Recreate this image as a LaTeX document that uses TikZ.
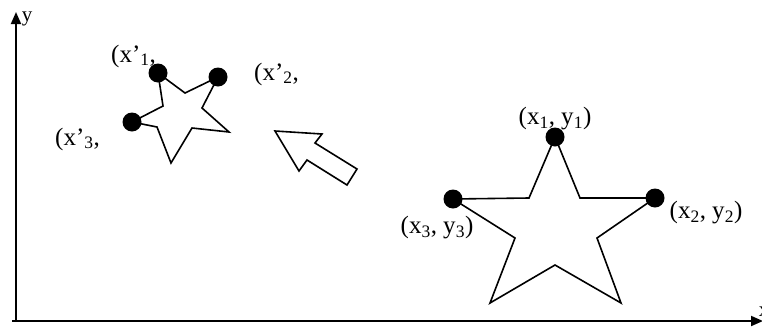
\documentclass[tikz,border=0pt]{standalone}
\usepackage{fontspec}
\setmainfont{Liberation Serif}
\usetikzlibrary{arrows.meta}
\begin{document}
\begin{tikzpicture}[x=1pt,y=-1pt,
  axis/.style={line width=1.9pt,-{Triangle[length=12pt,width=10pt]}},
  starline/.style={line width=1.6pt,line join=miter},
  dot/.style={circle,fill=black,inner sep=0pt,minimum size=19pt},
  lbl/.style={font=\fontsize{25}{28}\selectfont,inner sep=0pt}]
\useasboundingbox (0,0) rectangle (762,327);
% axes
\coordinate (O) at (16,321);
\coordinate (Ytip) at (16,12);
\coordinate (Xstart) at (12,321);
\coordinate (Xtip) at (763,321);
\draw[axis] (O) -- (Ytip);
\draw[axis] (Xstart) -- (Xtip);
\node[font=\fontsize{21}{24}\selectfont,inner sep=0pt] (ylab) at (27,19) {y};
\node[font=\fontsize{21}{24}\selectfont,inner sep=0pt] (xlab) at (764,312) {x};
% big star
\draw[starline] (555,137) -- (580,198) -- (655,198) -- (597,238) -- (621,303)
  -- (555,265) -- (490,303) -- (515,238) -- (453,199) -- (529,198) -- cycle;
% small star
\draw[starline] (158,73) -- (185,93) -- (218,77) -- (202,108) -- (229,132)
  -- (192,128) -- (171,163) -- (157,127) -- (132,122) -- (163,106) -- cycle;
% arrow
\draw[line width=1.6pt,line join=miter] (275,131) -- (322,134) -- (315,143) -- (357,169)
  -- (347,185) -- (307,160) -- (299,171) -- cycle;
% labels
\node[lbl] (l1) at (555,119) {(x\textsubscript{1}, y\textsubscript{1})};
\node[lbl] (l2) at (706,213) {(x\textsubscript{2}, y\textsubscript{2})};
\node[lbl] (l3) at (437,228) {(x\textsubscript{3}, y\textsubscript{3})};
\node[lbl,anchor=west] (m1) at (111,56) {(x’\textsubscript{1},};
\node[lbl,anchor=west] (m2) at (254,74) {(x’\textsubscript{2},};
\node[lbl,anchor=west] (m3) at (55,139) {(x’\textsubscript{3},};
% dots
\node[dot] (d1) at (555,137) {};
\node[dot] (d2) at (655,198) {};
\node[dot] (d3) at (453,199) {};
\node[dot] (e1) at (158,73) {};
\node[dot] (e2) at (218,77) {};
\node[dot] (e3) at (132,122) {};
\end{tikzpicture}
\end{document}
